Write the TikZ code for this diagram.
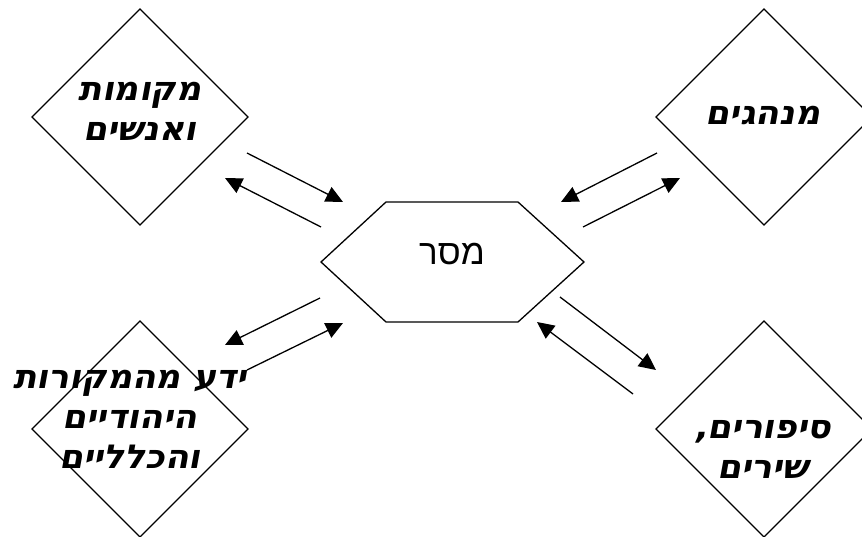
\documentclass[tikz,border=0pt]{standalone}
\usepackage{fontspec}
\usetikzlibrary{shapes.geometric,arrows.meta}
\TeXXeTstate=1
\newfontfamily\hebhand[Script=Hebrew,FakeSlant=0.18,FakeStretch=1.05]{DejaVu Sans}
\newfontfamily\hebreg[Script=Hebrew]{Liberation Sans}
\tikzset{
  dia/.style={draw,diamond,minimum width=216pt,minimum height=216pt,inner sep=0pt,outer sep=0pt,line width=1.3pt},
  hand/.style={align=center,font=\hebhand\bfseries\fontsize{33}{40}\selectfont,inner sep=0pt},
  conn/.style={line width=1.3pt,-{Triangle[length=17pt,width=16pt]}}
}
\begin{document}
\begin{tikzpicture}[x=1pt,y=-1pt]
\useasboundingbox (0,0) rectangle (862,537);
% diamonds
\node[dia] (tl) at (140,117) {};
\node[dia] (tr) at (764,117) {};
\node[dia] (bl) at (140,429) {};
\node[dia] (br) at (764,429) {};
% hexagon
\draw[line width=1.3pt] (321,262) -- (386,202) -- (518,202) -- (584,262) -- (518,322) -- (386,322) -- cycle;
\node[font=\hebreg\fontsize{35}{40}\selectfont,inner sep=0pt] (msg) at (452,254) {\beginR מסר\endR};
% texts
\node[hand] (tltext) at (140,111) {\beginR מקומות\endR\\\beginR ואנשים\endR};
\node[hand] (trtext) at (763,116) {\beginR מנהגים\endR};
\node[hand] (bltext) at (130,419) {\beginR ידע מהמקורות\endR\\\beginR היהודיים\endR\\\beginR והכלליים\endR};
\node[hand] (brtext) at (763,449) {\beginR סיפורים,\endR\\\beginR שירים\endR};
% connector end points
\coordinate (a1s) at (247,153); \coordinate (a1e) at (343,202);
\coordinate (a2s) at (321,227); \coordinate (a2e) at (225,178);
\coordinate (b1s) at (657,153); \coordinate (b1e) at (561,202);
\coordinate (b2s) at (583,227); \coordinate (b2e) at (680,178);
\coordinate (c1s) at (320,298); \coordinate (c1e) at (225,345);
\coordinate (c2s) at (247,370); \coordinate (c2e) at (343,323);
\coordinate (d1s) at (560,297); \coordinate (d1e) at (656,370);
\coordinate (d2s) at (633,394); \coordinate (d2e) at (537,322);
\draw[conn] (a1s) -- (a1e);
\draw[conn] (a2s) -- (a2e);
\draw[conn] (b1s) -- (b1e);
\draw[conn] (b2s) -- (b2e);
\draw[conn] (c1s) -- (c1e);
\draw[conn] (c2s) -- (c2e);
\draw[conn] (d1s) -- (d1e);
\draw[conn] (d2s) -- (d2e);
\end{tikzpicture}
\end{document}
